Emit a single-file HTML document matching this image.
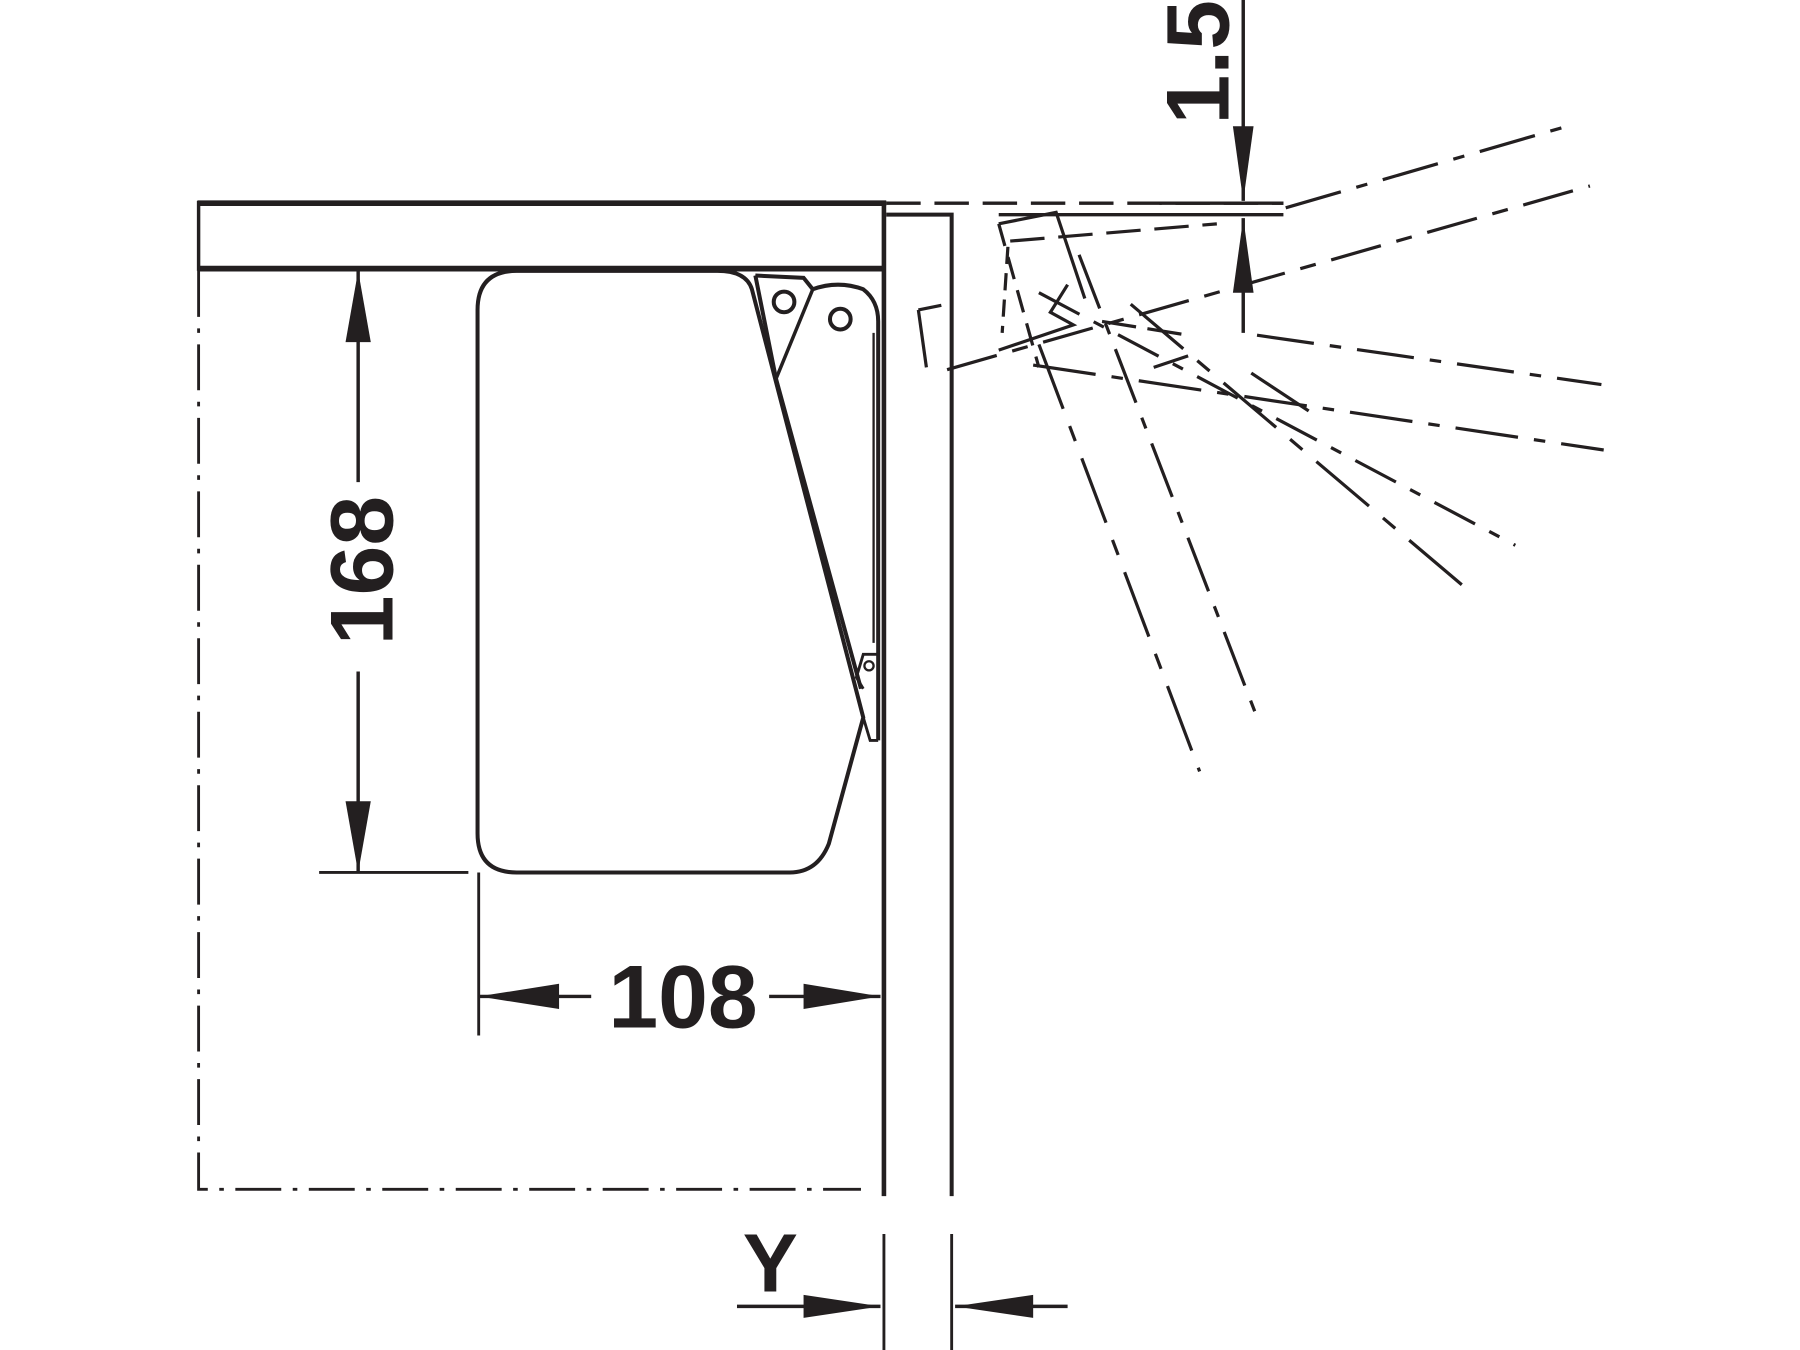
<!DOCTYPE html>
<html><head><style>html,body{margin:0;padding:0;background:#fff}svg{display:block}</style></head>
<body>
<svg width="1800" height="1350" viewBox="0 0 1568 1176" preserveAspectRatio="none" xmlns="http://www.w3.org/2000/svg">
<rect width="1568" height="1176" fill="#fff"/>
<g stroke="#231f20" fill="none" stroke-linecap="butt">
<line x1="172" y1="177" x2="772" y2="177" stroke-width="5"/>
<line x1="172" y1="234" x2="770" y2="234" stroke-width="5"/>
<line x1="173" y1="175" x2="173" y2="236" stroke-width="3"/>
<line x1="770" y1="175" x2="770" y2="1042" stroke-width="4"/>
<polyline points="772,187 829,187 829,1042" stroke-width="3.5"/>
<polyline points="173,236 173,1036 750,1036" stroke-width="2.5" stroke-dasharray="40,10,4,10"/>
<path d="M450 236 H625 Q650 236 655 252 L752 625 L722 735 Q712 760 688 760 H450 Q416 760 416 726 V270 Q416 236 450 236 Z" stroke-width="3.5"/>
<path d="M658 240 L700 242 L708 252 Q730 244 752 252 Q765 262 765 280 L765 645" stroke-width="3.5"/>
<path d="M658 240 L676 330 L750 600" stroke-width="3.5"/>
<path d="M676 330 L708 252" stroke-width="3"/>
<circle cx="683" cy="263" r="9" stroke-width="3.5"/>
<circle cx="732" cy="278" r="9" stroke-width="3.5"/>
<path d="M752 600 L746 590 L752 570 L765 570" stroke-width="2.5"/>
<circle cx="757" cy="580" r="4" stroke-width="2"/>
<path d="M752 625 L758 645 L765 645" stroke-width="2.5"/>
<path d="M761 290 L761 560" stroke-width="2"/>
<line x1="312" y1="236" x2="312" y2="420" stroke-width="3"/>
<line x1="312" y1="585" x2="312" y2="760" stroke-width="3"/>
<line x1="278" y1="760" x2="408" y2="760" stroke-width="2.5"/>
<line x1="417" y1="760" x2="417" y2="902" stroke-width="2.5"/>
<line x1="417" y1="868" x2="515" y2="868" stroke-width="3"/>
<line x1="670" y1="868" x2="767" y2="868" stroke-width="3"/>
<line x1="770" y1="1075" x2="770" y2="1176" stroke-width="2.5"/>
<line x1="829" y1="1075" x2="829" y2="1176" stroke-width="2.5"/>
<line x1="642" y1="1138" x2="767" y2="1138" stroke-width="3"/>
<line x1="832" y1="1138" x2="930" y2="1138" stroke-width="3"/>
<line x1="1083" y1="0" x2="1083" y2="175" stroke-width="3"/>
<line x1="1083" y1="190" x2="1083" y2="290" stroke-width="3"/>
<line x1="772" y1="177" x2="1118" y2="177" stroke-width="3" stroke-dasharray="30,12"/>
<line x1="1010" y1="177" x2="1118" y2="177" stroke-width="3"/>
<line x1="870" y1="187" x2="1118" y2="187" stroke-width="3"/>
<g stroke-width="2.8">
<line x1="1120" y1="181" x2="1365" y2="110" stroke-dasharray="50,14,10,14"/>
<line x1="825" y1="322" x2="1385" y2="162" stroke-dasharray="45,14,14,14"/>
<line x1="1095" y1="292" x2="1395" y2="335" stroke-dasharray="50,14,10,14"/>
<line x1="900" y1="318" x2="1397" y2="392" stroke-dasharray="55,14,10,14"/>
<line x1="905" y1="255" x2="1320" y2="475" stroke-dasharray="40,14,10,14"/>
<line x1="985" y1="265" x2="1280" y2="515" stroke-dasharray="60,16,14,16"/>
<line x1="905" y1="300" x2="1045" y2="672" stroke-dasharray="60,16,14,16"/>
<line x1="940" y1="222" x2="1097" y2="630" stroke-dasharray="50,14,10,14"/>
<line x1="880" y1="210" x2="1060" y2="195" stroke-dasharray="30,12"/>
<polyline points="800,270 807,320"/>
<polyline points="800,270 820,266"/>
<polyline points="878,215 873,290" stroke-dasharray="15,8"/>
<polyline points="870,195 920,185 945,260"/>
<polyline points="870,195 905,320" stroke-dasharray="20,10"/>
<polyline points="930,248 915,272 935,283 870,305"/>
<line x1="960" y1="280" x2="1035" y2="292" stroke-dasharray="30,10"/>
<line x1="1090" y1="325" x2="1140" y2="358"/>
<line x1="1005" y1="320" x2="1035" y2="310"/>
</g>
</g>
<g fill="#231f20">
<polygon points="312,236 301,298 323,298"/>
<polygon points="312,760 301,698 323,698"/>
<polygon points="417,868 487,857 487,879"/>
<polygon points="767,868 700,857 700,879"/>
<polygon points="767,1138 700,1128 700,1148"/>
<polygon points="832,1138 900,1128 900,1148"/>
<polygon points="1083,175 1074,110 1092,110"/>
<polygon points="1083,190 1074,255 1092,255"/>
</g>
<g font-family="Liberation Sans, sans-serif" font-weight="bold" fill="#231f20">
<text x="595" y="895" font-size="78" text-anchor="middle">108</text>
<text transform="translate(342,497) rotate(-90)" font-size="78" text-anchor="middle">168</text>
<text transform="translate(1070,0) rotate(-90)" font-size="78" text-anchor="end">1.5</text>
<text x="671" y="1125" font-size="72" text-anchor="middle">Y</text>
</g>
</svg>
</body></html>
